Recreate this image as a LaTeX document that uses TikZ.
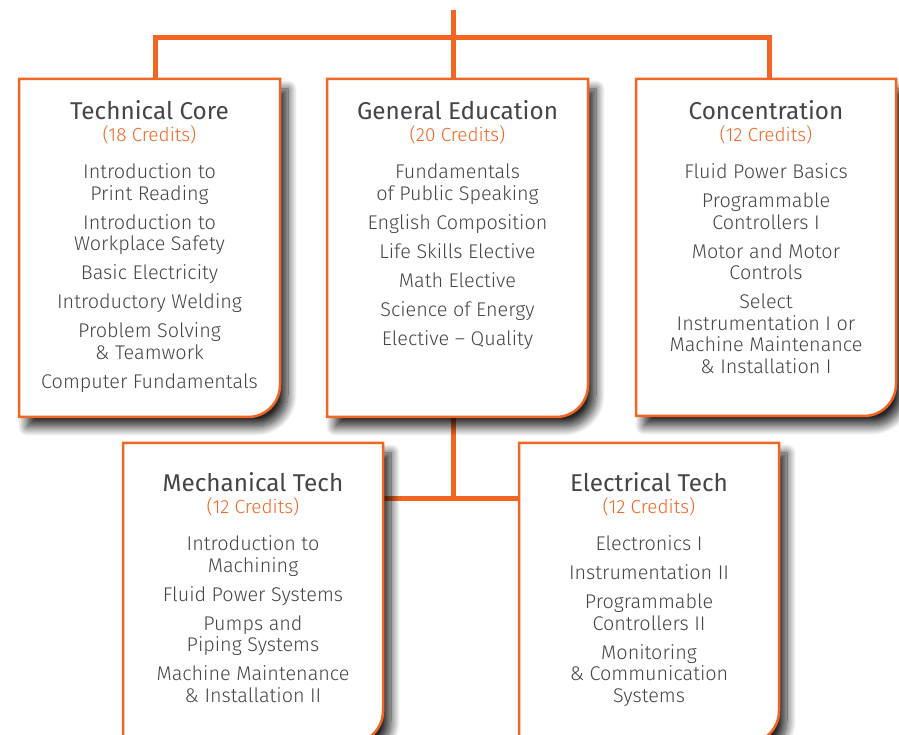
\documentclass[tikz,border=0pt]{standalone}
\usepackage{fontspec}
\setmainfont{Fira Sans Light}
\newfontfamily\ttlfont{Fira Sans}
\usetikzlibrary{calc,shadows.blur}
\definecolor{org}{HTML}{F26522}
\definecolor{txt}{HTML}{454545}
\newcommand\ttl[1]{{\ttlfont\fontsize{24.3}{26}\selectfont #1}}
\newcommand\cred[1]{{\color{org}\fontsize{19}{20}\selectfont #1}}
\newcommand\cardpath[2]{%
  \filldraw[card] (#1.north west) -- (#1.north east) -- ([yshift=#2]#1.south east)
    arc[start angle=0,end angle=-90,radius=#2] -- (#1.south west) -- cycle;}
\tikzset{
  conn/.style={draw=org, line width=5pt},
  area/.style={draw=none, inner sep=0pt, outer sep=0pt, anchor=north west},
  card/.style={fill=white, draw=org, line width=2.5pt,
    blur shadow={shadow xshift=8pt, shadow yshift=-10pt, shadow blur radius=9pt,
      shadow blur steps=16, shadow opacity=85}},
  lines/.style={anchor=north, align=center, inner sep=0pt, text=txt,
    font=\fontsize{19.8}{21.5}\selectfont}
}
\begin{document}
\begin{tikzpicture}[x=1pt,y=1pt]
\useasboundingbox (0,0) rectangle (899,734);
% box areas
\node[area, minimum width=261pt, minimum height=338pt] (tc) at (19,655) {};
\node[area, minimum width=261pt, minimum height=338pt] (ge) at (327,655) {};
\node[area, minimum width=260pt, minimum height=337pt] (cc) at (636,655) {};
\node[area, minimum width=260pt, minimum height=300pt] (mt) at (123,291) {};
\node[area, minimum width=260pt, minimum height=300pt] (et) at (519,291) {};
% connectors
\coordinate (topend) at (453,724);
\coordinate (hub) at (453,696.5);
\coordinate (bhub) at (453,235);
\draw[conn] (topend) -- (hub);
\draw[conn] ($(tc.north west)+(136,0)$) |- (hub) -| ($(cc.north west)+(133,0)$);
\draw[conn] (hub) -- (ge.north -| hub);
\draw[conn] (ge.south -| bhub) -- (bhub);
\draw[conn] (mt.east |- bhub) -- (et.west |- bhub);
% cards
\cardpath{tc}{32pt}
\cardpath{ge}{32pt}
\cardpath{cc}{32pt}
\cardpath{mt}{32pt}
\cardpath{et}{32pt}
% texts
\node[lines] (tct) at ([yshift=-21pt]tc.north) {\ttl{Technical Core}\\[1pt]\cred{(18 Credits)}\\[15.5pt]
Introduction to\\Print Reading\\[7.5pt]Introduction to\\Workplace Safety\\[7.5pt]Basic Electricity\\[7.5pt]Introductory Welding\\[7.5pt]Problem Solving\\\& Teamwork\\[7.5pt]Computer Fundamentals};
\node[lines] (get) at ([yshift=-21pt]ge.north) {\ttl{General Education}\\[1pt]\cred{(20 Credits)}\\[15.5pt]
Fundamentals\\of Public Speaking\\[7.5pt]English Composition\\[7.5pt]Life Skills Elective\\[7.5pt]Math Elective\\[7.5pt]Science of Energy\\[7.5pt]Elective – Quality};
\node[lines] (cct) at ([yshift=-21pt]cc.north) {\ttl{Concentration}\\[1pt]\cred{(12 Credits)}\\[15.5pt]
Fluid Power Basics\\[7.5pt]Programmable\\Controllers I\\[7.5pt]Motor and Motor\\Controls\\[7.5pt]Select\\Instrumentation I or\\Machine Maintenance\\\& Installation I};
\node[lines] (mtt) at ([yshift=-29pt]mt.north) {\ttl{Mechanical Tech}\\[1pt]\cred{(12 Credits)}\\[15.5pt]
Introduction to\\Machining\\[7.5pt]Fluid Power Systems\\[7.5pt]Pumps and\\Piping Systems\\[7.5pt]Machine Maintenance\\\& Installation II};
\node[lines] (ett) at ([yshift=-29pt]et.north) {\ttl{Electrical Tech}\\[1pt]\cred{(12 Credits)}\\[15.5pt]
Electronics I\\[7.5pt]Instrumentation II\\[7.5pt]Programmable\\Controllers II\\[7.5pt]Monitoring\\\& Communication\\Systems};
\end{tikzpicture}
\end{document}
